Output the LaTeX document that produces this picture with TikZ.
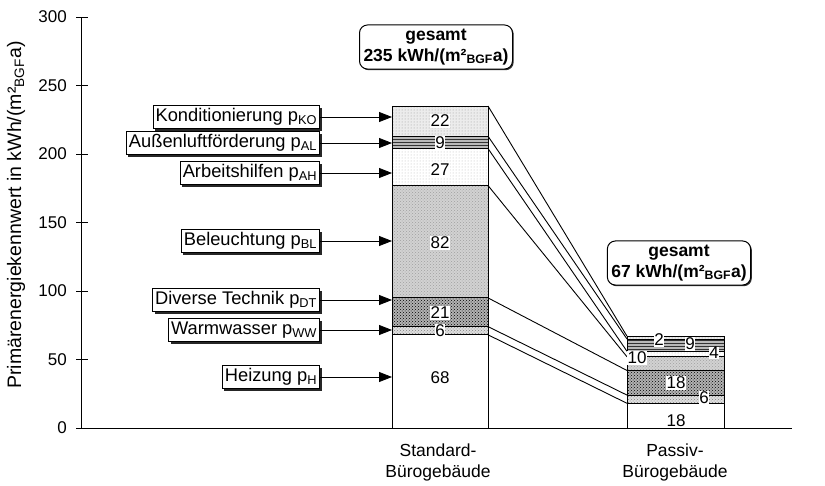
\documentclass[tikz,border=0pt]{standalone}
\usepackage{fontspec}
\setmainfont{Liberation Sans}
\usetikzlibrary{patterns,arrows.meta,shadows}
\begin{document}
\begin{tikzpicture}[x=1pt,y=-1pt,
  font=\fontsize{17}{20}\selectfont,
  lab/.style={draw, fill=white, line width=0.9pt, inner xsep=2.5pt, inner ysep=1pt,
    minimum height=23pt, anchor=east, font=\fontsize{18.3}{21}\selectfont,
    drop shadow={shadow xshift=2pt, shadow yshift=-2pt, opacity=1, fill=black!85}},
  num/.style={fill=white, inner sep=0.6pt},
  tot/.style={draw, fill=white, rounded corners=8pt, line width=1pt, align=center,
    font=\fontsize{17.5}{21}\selectfont\bfseries, inner xsep=4pt, inner ysep=4pt,
    drop shadow={shadow xshift=1.2pt, shadow yshift=-1.2pt, opacity=1, fill=black!80}},
  seg/.style={draw=black, line width=0.9pt},
  sKO/.style={seg, preaction={fill=gray!15}, pattern=dots, pattern color=gray!80},
  sAL/.style={seg, preaction={fill=gray!55}, pattern=horizontal lines, pattern color=black!80},
  sAH/.style={seg, preaction={fill=white}, pattern=dots, pattern color=gray!55},
  sBL/.style={seg, preaction={fill=gray!35}, pattern=crosshatch dots, pattern color=gray!75},
  sDT/.style={seg, preaction={fill=gray!60}, pattern=crosshatch dots, pattern color=black},
  sWW/.style={seg, preaction={fill=gray!25}, pattern=crosshatch dots, pattern color=gray},
  sH/.style={seg, fill=white},
  arr/.style={line width=0.8pt, -{Triangle[length=13pt,width=10pt]}},
  conn/.style={line width=0.9pt}
]
\useasboundingbox (0,0) rectangle (825,485);

% axes
\draw[line width=0.9pt] (81,17) -- (81,428) -- (792,428);
\foreach \v in {0,50,...,300}{
  \pgfmathsetmacro\yy{428-1.37*\v}
  \draw[line width=0.8pt] (76,\yy) -- (88,\yy);
  \node[anchor=east, inner sep=1pt] at (68,\yy) {\v};
}
\node[rotate=90, font=\fontsize{19.5}{22}\selectfont] (ytitle) at (16,215) {Primärenergiekennwert in kWh/(m²\textsubscript{BGF}a)};

% standard bar
\draw[sH]  (392,428)   rectangle (488,334.8);
\draw[sWW] (392,334.8) rectangle (488,326.6);
\draw[sDT] (392,326.6) rectangle (488,297.9);
\draw[sBL] (392,297.9) rectangle (488,185.5);
\draw[sAH] (392,185.5) rectangle (488,148.5);
\draw[sAL] (392,148.5) rectangle (488,136.2);
\draw[sKO] (392,136.2) rectangle (488,106.0);

% passive bar
\draw[sH]  (627,428)   rectangle (724,403.3);
\draw[sWW] (627,403.3) rectangle (724,395.1);
\draw[sDT] (627,395.1) rectangle (724,370.5);
\draw[sBL] (627,370.5) rectangle (724,356.8);
\draw[sAH] (627,356.8) rectangle (724,351.3);
\draw[sAL] (627,351.3) rectangle (724,339.0);
\draw[sKO] (627,339.0) rectangle (724,336.2);

% connector coordinates
\coordinate (a1) at (488,106.0);  \coordinate (b1) at (627,336.2);
\coordinate (a2) at (488,136.2);  \coordinate (b2) at (627,339.0);
\coordinate (a3) at (488,148.5);  \coordinate (b3) at (627,351.3);
\coordinate (a4) at (488,185.5);  \coordinate (b4) at (627,356.8);
\coordinate (a5) at (488,297.9);  \coordinate (b5) at (627,370.5);
\coordinate (a6) at (488,326.6);  \coordinate (b6) at (627,395.1);
\coordinate (a7) at (488,334.8);  \coordinate (b7) at (627,403.3);
\foreach \i in {1,...,7}{ \draw[conn] (a\i) -- (b\i); }

% standard numbers
\node[num] at (440,121) {22};
\node[num] at (440,143) {9};
\node[num] at (440,170) {27};
\node[num] at (440,243) {82};
\node[num] at (440,313) {21};
\node[num] at (440,331) {6};
\node[num] at (440,378) {68};

% passive numbers
\node[num] at (659,340) {2};
\node[num] at (690,344) {9};
\node[num] at (637,358) {10};
\node[num] at (714,353) {4};
\node[num] at (676,383) {18};
\node[num] at (704,398) {6};
\node[num] at (676,421) {18};

% labels and arrows
\node[lab] (lKO) at (320,117) {Konditionierung p\textsubscript{KO}};
\node[lab] (lAL) at (320,143) {Außenluftförderung p\textsubscript{AL}};
\node[lab] (lAH) at (320,173) {Arbeitshilfen p\textsubscript{AH}};
\node[lab] (lBL) at (320,241) {Beleuchtung p\textsubscript{BL}};
\node[lab] (lDT) at (320,300) {Diverse Technik p\textsubscript{DT}};
\node[lab] (lWW) at (320,330) {Warmwasser p\textsubscript{WW}};
\node[lab] (lH)  at (320,377) {Heizung p\textsubscript{H}};
\coordinate (tKO) at (392,117);
\coordinate (tAL) at (392,143);
\coordinate (tAH) at (392,173);
\coordinate (tBL) at (392,241);
\coordinate (tDT) at (392,300);
\coordinate (tWW) at (392,330);
\coordinate (tH)  at (392,377);
\foreach \k in {KO,AL,AH,BL,DT,WW,H}{ \draw[arr] (l\k.east) -- (t\k); }

% totals
\node[tot] (tot1) at (436,47) {gesamt\\235 kWh/(m²\textsubscript{BGF}a)};
\node[tot] (tot2) at (679,263) {gesamt\\67 kWh/(m²\textsubscript{BGF}a)};

% categories
\node[align=center, font=\fontsize{17.5}{21}\selectfont] (c1) at (438,462) {Standard-\\Bürogebäude};
\node[align=center, font=\fontsize{17.5}{21}\selectfont] (c2) at (675,462) {Passiv-\\Bürogebäude};
\end{tikzpicture}
\end{document}
